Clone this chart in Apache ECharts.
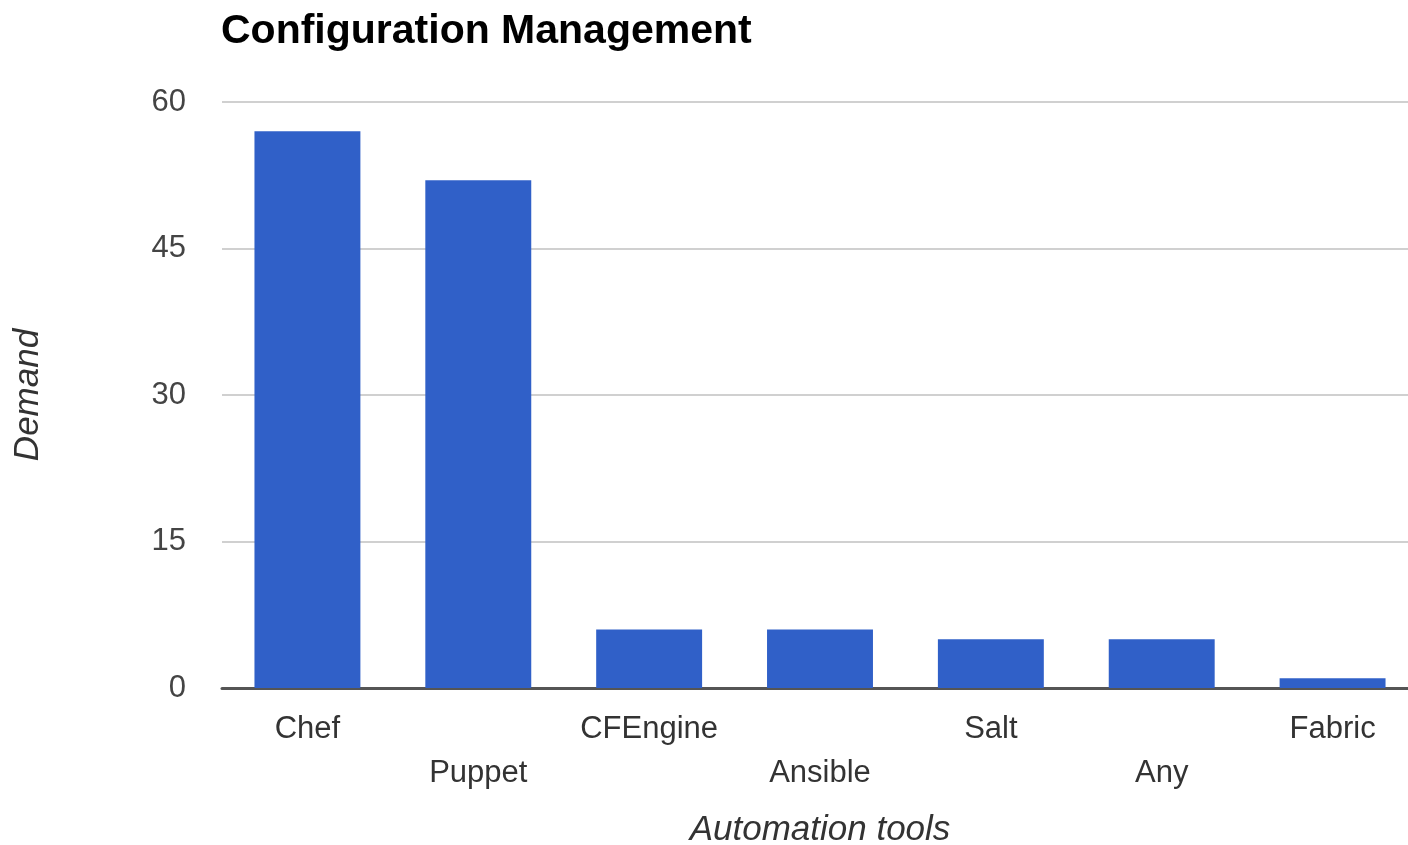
<!DOCTYPE html>
<html>
<head>
<meta charset="utf-8">
<script src="https://cdn.jsdelivr.net/npm/echarts@6/dist/echarts.min.js"></script>
<style>html,body{margin:0;padding:0;background:#fff}#c{width:1408px;height:845px}</style>
</head>
<body>
<div id="c"></div>
<script>
const categories = ['Chef', 'Puppet', 'CFEngine', 'Ansible', 'Salt', 'Any', 'Fabric'];
const demand = [57, 52, 6, 6, 5, 5, 1];
const yTicks = { min: 0, max: 60, interval: 15 };

const chart = echarts.init(document.getElementById('c'), null, { renderer: 'canvas' });
const FONT = '"Liberation Sans", Arial, sans-serif';
chart.setOption({
  animation: false,
  backgroundColor: '#ffffff',
  title: {
    text: 'Configuration Management',
    left: 216, top: 6,
    textStyle: { fontFamily: FONT, fontSize: 41, fontWeight: 'bold', color: '#000' }
  },
  grid: { left: 222, width: 1196, top: 102, height: 586, containLabel: false, outerBoundsMode: 'none' },
  xAxis: {
    type: 'category',
    data: categories,
    name: 'Automation tools',
    nameLocation: 'middle',
    nameGap: 125,
    nameTextStyle: { fontFamily: FONT, fontSize: 35, fontStyle: 'italic', color: '#333' },
    axisLine: { lineStyle: { color: '#555', width: 3 } },
    axisTick: { show: false },
    axisLabel: {
      interval: 0,
      fontFamily: FONT, fontSize: 31, color: '#333',
      margin: 19, lineHeight: 44,
      formatter: (v, i) => (i % 2 ? '\n' + v : v)
    }
  },
  yAxis: {
    type: 'value',
    min: yTicks.min, max: yTicks.max, interval: yTicks.interval,
    name: 'Demand',
    nameLocation: 'middle',
    nameGap: 176,
    nameRotate: 90,
    nameTextStyle: { fontFamily: FONT, fontSize: 35, fontStyle: 'italic', color: '#333' },
    axisLine: { show: false },
    axisTick: { show: false },
    splitLine: { lineStyle: { color: '#d0d0d0', width: 2 } },
    axisLabel: { fontFamily: FONT, fontSize: 31, color: '#444', margin: 36 }
  },
  series: [{
    type: 'bar',
    data: demand,
    barWidth: '62%',
    itemStyle: { color: '#3060c8' }
  }]
});
</script>
</body>
</html>
